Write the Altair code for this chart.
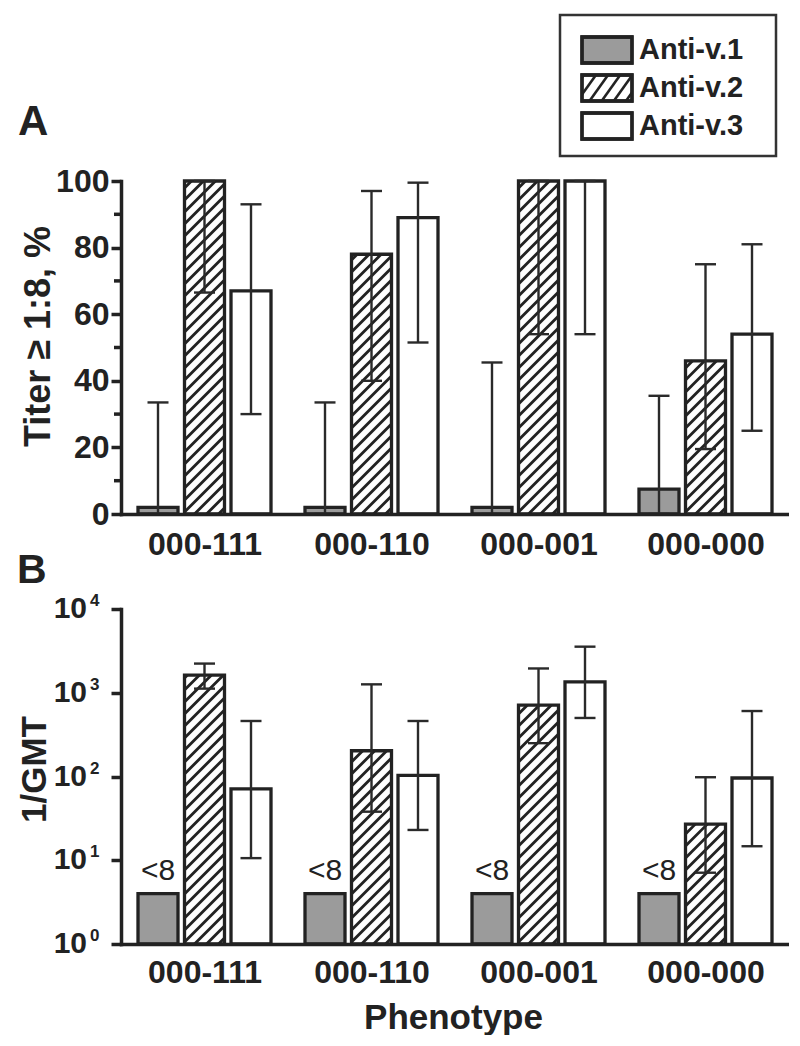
import altair as alt
import numpy as np
import pandas as pd

# ---------------- data ----------------
groups = ["000-111", "000-110", "000-001", "000-000"]
series = ["Anti-v.1", "Anti-v.2", "Anti-v.3"]
panel_letters = ["A", "B"]

# Panel A: % with titer >= 1:8 (bar, lower CI, upper CI)
pct_v1 = [2, 2, 2, 7.5]
pct_v1_lo = [0, 0, 0, 0]
pct_v1_hi = [33.5, 33.5, 45.5, 35.5]
pct_v2 = [100, 78, 100, 46]
pct_v2_lo = [66.5, 40, 54, 19.5]
pct_v2_hi = [100, 97, 100, 75]
pct_v3 = [67, 89, 100, 54]
pct_v3_lo = [30, 51.5, 54, 25]
pct_v3_hi = [93, 99.5, 100, 81]

# Panel B: 1/GMT (bar, lower CI, upper CI)
gmt_v1 = [4, 4, 4, 4]
gmt_v1_note = ["<8", "<8", "<8", "<8"]
gmt_v2 = [1620, 203, 710, 27]
gmt_v2_lo = [1120, 38, 250, 7.1]
gmt_v2_hi = [2230, 1260, 1950, 98]
gmt_v3 = [71, 103, 1350, 96]
gmt_v3_lo = [10.6, 23, 500, 14.7]
gmt_v3_hi = [460, 460, 3550, 605]

pct_ticks = [0, 20, 40, 60, 80, 100]
pct_minor = [10, 30, 50, 70, 90]
gmt_ticks = [1, 10, 100, 1000, 10000]

# ---------------- layout / style ----------------
W, HA, HB = 668, 333, 335
UNIT = W / len(groups)
BAR_PX, STEP_PX, CAP_PX, HATCH_GAP = 40, 46.5, 21, 12
INK = "#222222"
FONT = "Liberation Sans"
fills = ["#9b9b9b", "#ffffff", "#ffffff"]
hatched = [False, True, False]


def hatch_segments(x0, w, h, gap, k=1.0):
    """diagonal '/' segments y = k*x + c clipped to a w x h box (y up)."""
    segs = []
    for c in np.arange(-k * w + gap / 2, h, gap):
        xs = max(0.0, -c / k)
        xe = min(w, (h - c) / k)
        if xe - xs > 0.4:
            segs.append((x0 + xs, k * xs + c, x0 + xe, k * xe + c))
    return segs


def build(vals, los, his, to_px, from_px, base):
    bars, hatch, errs = [], [], []
    for si, s in enumerate(series):
        for gi, g in enumerate(groups):
            xc = gi + 0.5 + (si - 1) * STEP_PX / UNIT
            x0 = xc - BAR_PX / 2 / UNIT
            x1 = xc + BAR_PX / 2 / UNIT
            v = vals[si][gi]
            bars.append(dict(group=g, series=s, xc=xc, x0=x0, x1=x1, value=v, base=base))
            if hatched[si]:
                for a, b, c, d in hatch_segments(x0 * UNIT, BAR_PX, to_px(v), HATCH_GAP):
                    hatch.append(dict(hx0=a / UNIT, hy0=from_px(b), hx1=c / UNIT, hy1=from_px(d)))
            if los[si] is not None:
                errs.append(dict(series=s, xc=xc, cx0=xc - CAP_PX / 2 / UNIT,
                                 cx1=xc + CAP_PX / 2 / UNIT, lo=los[si][gi], hi=his[si][gi]))
    return pd.DataFrame(bars), pd.DataFrame(hatch), pd.DataFrame(errs)


barsA, hatchA, errsA = build(
    [pct_v1, pct_v2, pct_v3], [pct_v1_lo, pct_v2_lo, pct_v3_lo], [pct_v1_hi, pct_v2_hi, pct_v3_hi],
    lambda v: v * HA / 100.0, lambda p: p * 100.0 / HA, 0)
barsB, hatchB, errsB = build(
    [gmt_v1, gmt_v2, gmt_v3], [None, gmt_v2_lo, gmt_v3_lo], [None, gmt_v2_hi, gmt_v3_hi],
    lambda v: np.log10(v) * HB / 4.0, lambda p: 10 ** (p * 4.0 / HB), 1)

xscale = alt.Scale(domain=[0, len(groups)], nice=False, zero=False)
label_expr = "[" + ",".join("'%s'" % g for g in groups) + "][floor(datum.value)]"
common_axis = dict(domainWidth=3.5, domainColor=INK, domainCap="square", tickColor=INK, tickWidth=3.5,
                   labelFont=FONT, labelFontWeight="bold", labelColor=INK, grid=False,
                   labelOverlap=False, labelFlush=False, titleFont=FONT, titleFontWeight="bold",
                   titleColor=INK, zindex=1)


def xaxis(pad, **kw):
    return alt.Axis(values=[i + 0.5 for i in range(len(groups))], labelExpr=label_expr, ticks=False,
                    tickSize=0, labelPadding=pad, labelFontSize=32, **common_axis, **kw)


def bar_layers(bars, hatch, errs, yscale, yaxis, xax):
    def X(f):
        return alt.X(f, type="quantitative", scale=xscale, axis=xax)

    def Y(f):
        return alt.Y(f, type="quantitative", scale=yscale, axis=yaxis)

    fill = alt.Chart(bars).mark_rect(strokeWidth=0).encode(
        x=X("x0"), x2="x1", y=Y("value"), y2="base",
        fill=alt.Fill("series:N", scale=alt.Scale(domain=series, range=fills), legend=None))
    hat = alt.Chart(hatch).mark_rule(color=INK, strokeWidth=2.8).encode(
        x=X("hx0"), x2="hx1", y=Y("hy0"), y2="hy1")
    outline = alt.Chart(bars).mark_rect(fillOpacity=0, stroke=INK, strokeWidth=3.3).encode(
        x=X("x0"), x2="x1", y=Y("value"), y2="base")
    stem = alt.Chart(errs).mark_rule(color="#2a2a2a", strokeWidth=2.4).encode(
        x=X("xc"), y=Y("lo"), y2="hi")
    cap_hi = alt.Chart(errs).mark_rule(color="#2a2a2a", strokeWidth=2.4).encode(
        x=X("cx0"), x2="cx1", y=Y("hi"))
    cap_lo = alt.Chart(errs).mark_rule(color="#2a2a2a", strokeWidth=2.4).encode(
        x=X("cx0"), x2="cx1", y=Y("lo"))
    return [fill, hat, outline, stem, cap_hi, cap_lo], X, Y


# ---------------- panel A ----------------
yscaleA = alt.Scale(domain=[0, 100], nice=False, zero=True)
yaxisA = alt.Axis(values=pct_ticks, tickSize=10, labelPadding=2, labelFontSize=32,
                  title="Titer ≥ 1:8, %", titleFontSize=36, titleX=-72, titleY=155, titleAngle=270,
                  titleBaseline="alphabetic", titleAlign="center", **common_axis)
layersA, XA, YA = bar_layers(barsA, hatchA, errsA, yscaleA, yaxisA, xaxis(15, title=None))

minorA = alt.Chart(pd.DataFrame({"m": pct_minor})).mark_rule(color=INK, strokeWidth=3.5).encode(
    x=alt.value(-7), x2=alt.value(0), y=YA("m"))

# legend (drawn by hand because of the hatch fill)
leg = pd.DataFrame({"series": series})
leg["i"] = range(len(series))
leg["sx0"], leg["sx1"] = 461, 511
leg["sy0"] = -144 + 38 * leg["i"]
leg["sy1"] = leg["sy0"] + 26
leg["ty"] = leg["sy0"] + 13
leg["fill"] = fills
leg_hatch = []
for _, r in leg.iterrows():
    if hatched[int(r["i"])]:
        for a, b, c, d in hatch_segments(r["sx0"], 50, 26, 17, k=1.4):
            leg_hatch.append(dict(lx0=a, ly0=r["sy1"] - b, lx1=c, ly1=r["sy1"] - d))
leg_hatch = pd.DataFrame(leg_hatch)

box = alt.Chart(pd.DataFrame({"b": [0]})).mark_rect(fill="white", stroke="#333333", strokeWidth=2.5).encode(
    x=alt.value(439), x2=alt.value(655), y=alt.value(-166), y2=alt.value(-25))
leg_sw = alt.Chart(leg).mark_rect(stroke=INK, strokeWidth=3.3).encode(
    x=alt.X("sx0:Q", scale=None), x2="sx1:Q", y=alt.Y("sy0:Q", scale=None), y2="sy1:Q",
    fill=alt.Fill("fill:N", scale=None))
leg_h = alt.Chart(leg_hatch).mark_rule(color=INK, strokeWidth=2.6).encode(
    x=alt.X("lx0:Q", scale=None), x2="lx1:Q", y=alt.Y("ly0:Q", scale=None), y2="ly1:Q")
leg_sw2 = alt.Chart(leg).mark_rect(fillOpacity=0, stroke=INK, strokeWidth=3.3).encode(
    x=alt.X("sx0:Q", scale=None), x2="sx1:Q", y=alt.Y("sy0:Q", scale=None), y2="sy1:Q")
leg_t = alt.Chart(leg).mark_text(align="left", baseline="middle", font=FONT, fontWeight="bold",
                                 fontSize=29, color=INK).encode(
    x=alt.value(518), y=alt.Y("ty:Q", scale=None), text="series:N")

letterA = alt.Chart(pd.DataFrame({"t": [panel_letters[0]]})).mark_text(
    align="left", baseline="alphabetic", font=FONT, fontWeight="bold", fontSize=42, color=INK).encode(
    x=alt.value(-103), y=alt.value(-46), text="t:N")
letterB = alt.Chart(pd.DataFrame({"t": [panel_letters[1]]})).mark_text(
    align="left", baseline="alphabetic", font=FONT, fontWeight="bold", fontSize=41, color=INK).encode(
    x=alt.value(-104), y=alt.value(402), text="t:N")

chartA = alt.layer(*layersA, minorA, box, leg_sw, leg_h, leg_sw2, leg_t, letterA, letterB).properties(
    width=W, height=HA)

# ---------------- panel B ----------------
yscaleB = alt.Scale(type="log", domain=[1, 10000], nice=False)
yaxisB = alt.Axis(values=gmt_ticks, tickSize=10, labels=False, title="1/GMT", titleFontSize=35,
                  titleX=-76, titleY=160, titleAngle=270, titleBaseline="alphabetic",
                  titleAlign="center", **common_axis)
layersB, XB, YB = bar_layers(barsB, hatchB, errsB, yscaleB, yaxisB,
                             xaxis(13, title="Phenotype", titleFontSize=35, titleX=332, titleY=84,
                                   titleBaseline="alphabetic", titleAlign="center"))

tick_df = pd.DataFrame({"tick": gmt_ticks})
tick_df["base"] = "10"
tick_df["exp"] = [str(int(round(np.log10(t)))) for t in gmt_ticks]
ylab10 = alt.Chart(tick_df).mark_text(align="right", baseline="middle", font=FONT, fontWeight="bold",
                                      fontSize=30, color=INK).encode(
    x=alt.value(-34), y=YB("tick"), text="base:N")
ylabExp = alt.Chart(tick_df).mark_text(align="left", baseline="middle", font=FONT, fontWeight="bold",
                                       fontSize=17, color=INK, dy=-8).encode(
    x=alt.value(-31), y=YB("tick"), text="exp:N")

note_df = barsB[barsB["series"] == series[0]].copy()
note_df["note"] = gmt_v1_note
notes = alt.Chart(note_df).mark_text(baseline="alphabetic", font=FONT, fontSize=30, color=INK, dy=-14).encode(
    x=XB("xc"), y=YB("value"), text="note:N")

chartB = alt.layer(*layersB, ylab10, ylabExp, notes).properties(width=W, height=HB)

chart = alt.vconcat(chartA, chartB, spacing=1).properties(
    padding={"left": 9, "top": 5, "right": 0, "bottom": 0}
).configure_view(stroke=None)

chart.save("out.html", embed_options={"renderer": "svg", "actions": False})
